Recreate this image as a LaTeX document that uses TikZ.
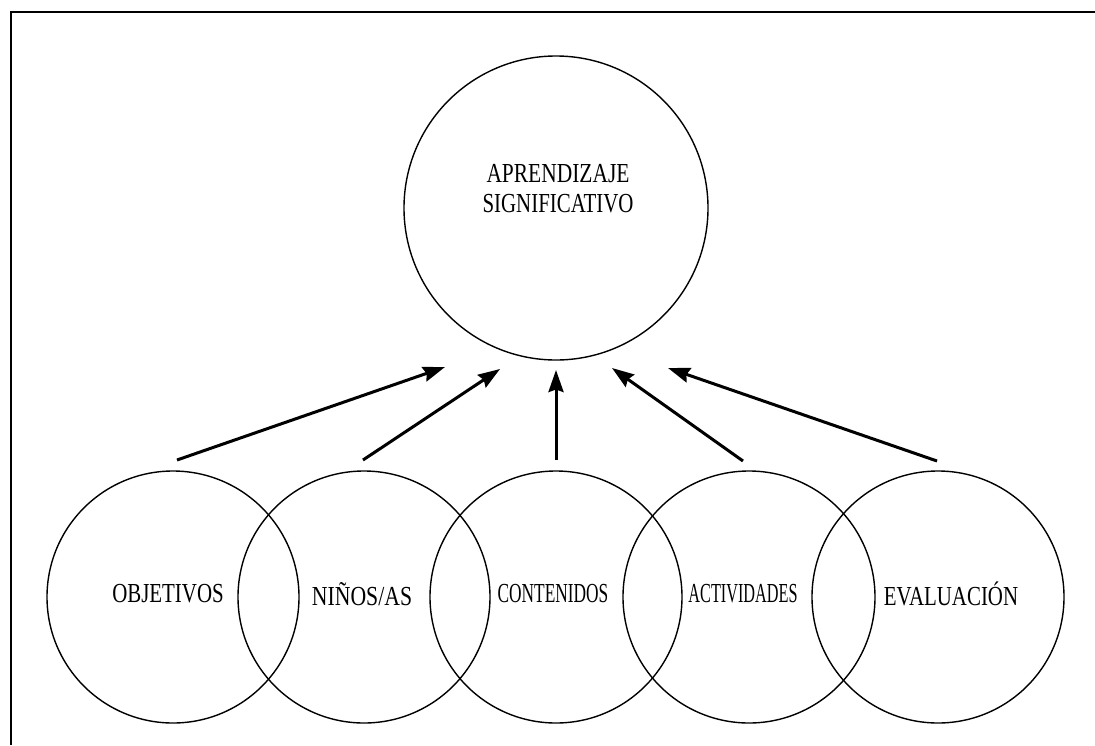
\documentclass[tikz,border=0pt]{standalone}
\usepackage{fontspec}
\setmainfont{Liberation Serif}
\usetikzlibrary{arrows.meta}
\begin{document}
\begin{tikzpicture}[x=1pt,y=-1pt,
  ring/.style={draw,circle,line width=1.4pt,inner sep=0pt},
  label/.style={font=\fontsize{27.5}{30}\selectfont,inner sep=0pt,align=center},
  link/.style={line width=3pt,-{Stealth[length=22pt,width=15pt,inset=2.5pt]}}]
\useasboundingbox (0,0) rectangle (1095,745);
% page frame: only the top and left edges
\draw[line width=2pt] (11,745) -- (11,12) -- (1095,12);

% central idea
\node[ring,minimum size=304pt] (big) at (556,208) {};
\node[label] (bigtxt) at (558,189) {\scalebox{0.78}[1]{APRENDIZAJE}\\\scalebox{0.76}[1]{SIGNIFICATIVO}};

% row of overlapping components
\node[ring,minimum size=252pt] (c1) at (173,597) {};
\node[ring,minimum size=252pt] (c2) at (364,597) {};
\node[ring,minimum size=252pt] (c3) at (556,597) {};
\node[ring,minimum size=252pt] (c4) at (749,597) {};
\node[ring,minimum size=252pt] (c5) at (938,597) {};

\node[label] (t1) at (168,594) {\scalebox{0.76}[1]{OBJETIVOS}};
\node[label] (t2) at (362,594) {\scalebox{0.79}[1]{NIÑOS/AS}};
\node[label] (t3) at (553,594) {\scalebox{0.63}[1]{CONTENIDOS}};
\node[label] (t4) at (743,594) {\scalebox{0.59}[1]{ACTIVIDADES}};
\node[label] (t5) at (951,594) {\scalebox{0.76}[1]{EVALUACIÓN}};

% arrow end points
\coordinate (s1) at (177,460); \coordinate (e1) at (445,367);
\coordinate (s2) at (363,460); \coordinate (e2) at (500,369);
\coordinate (s3) at (556,460); \coordinate (e3) at (556,370);
\coordinate (s4) at (743,461); \coordinate (e4) at (612,368);
\coordinate (s5) at (937,461); \coordinate (e5) at (668,368);

\draw[link] (s1) -- (e1);
\draw[link] (s2) -- (e2);
\draw[link] (s3) -- (e3);
\draw[link] (s4) -- (e4);
\draw[link] (s5) -- (e5);
\end{tikzpicture}
\end{document}
